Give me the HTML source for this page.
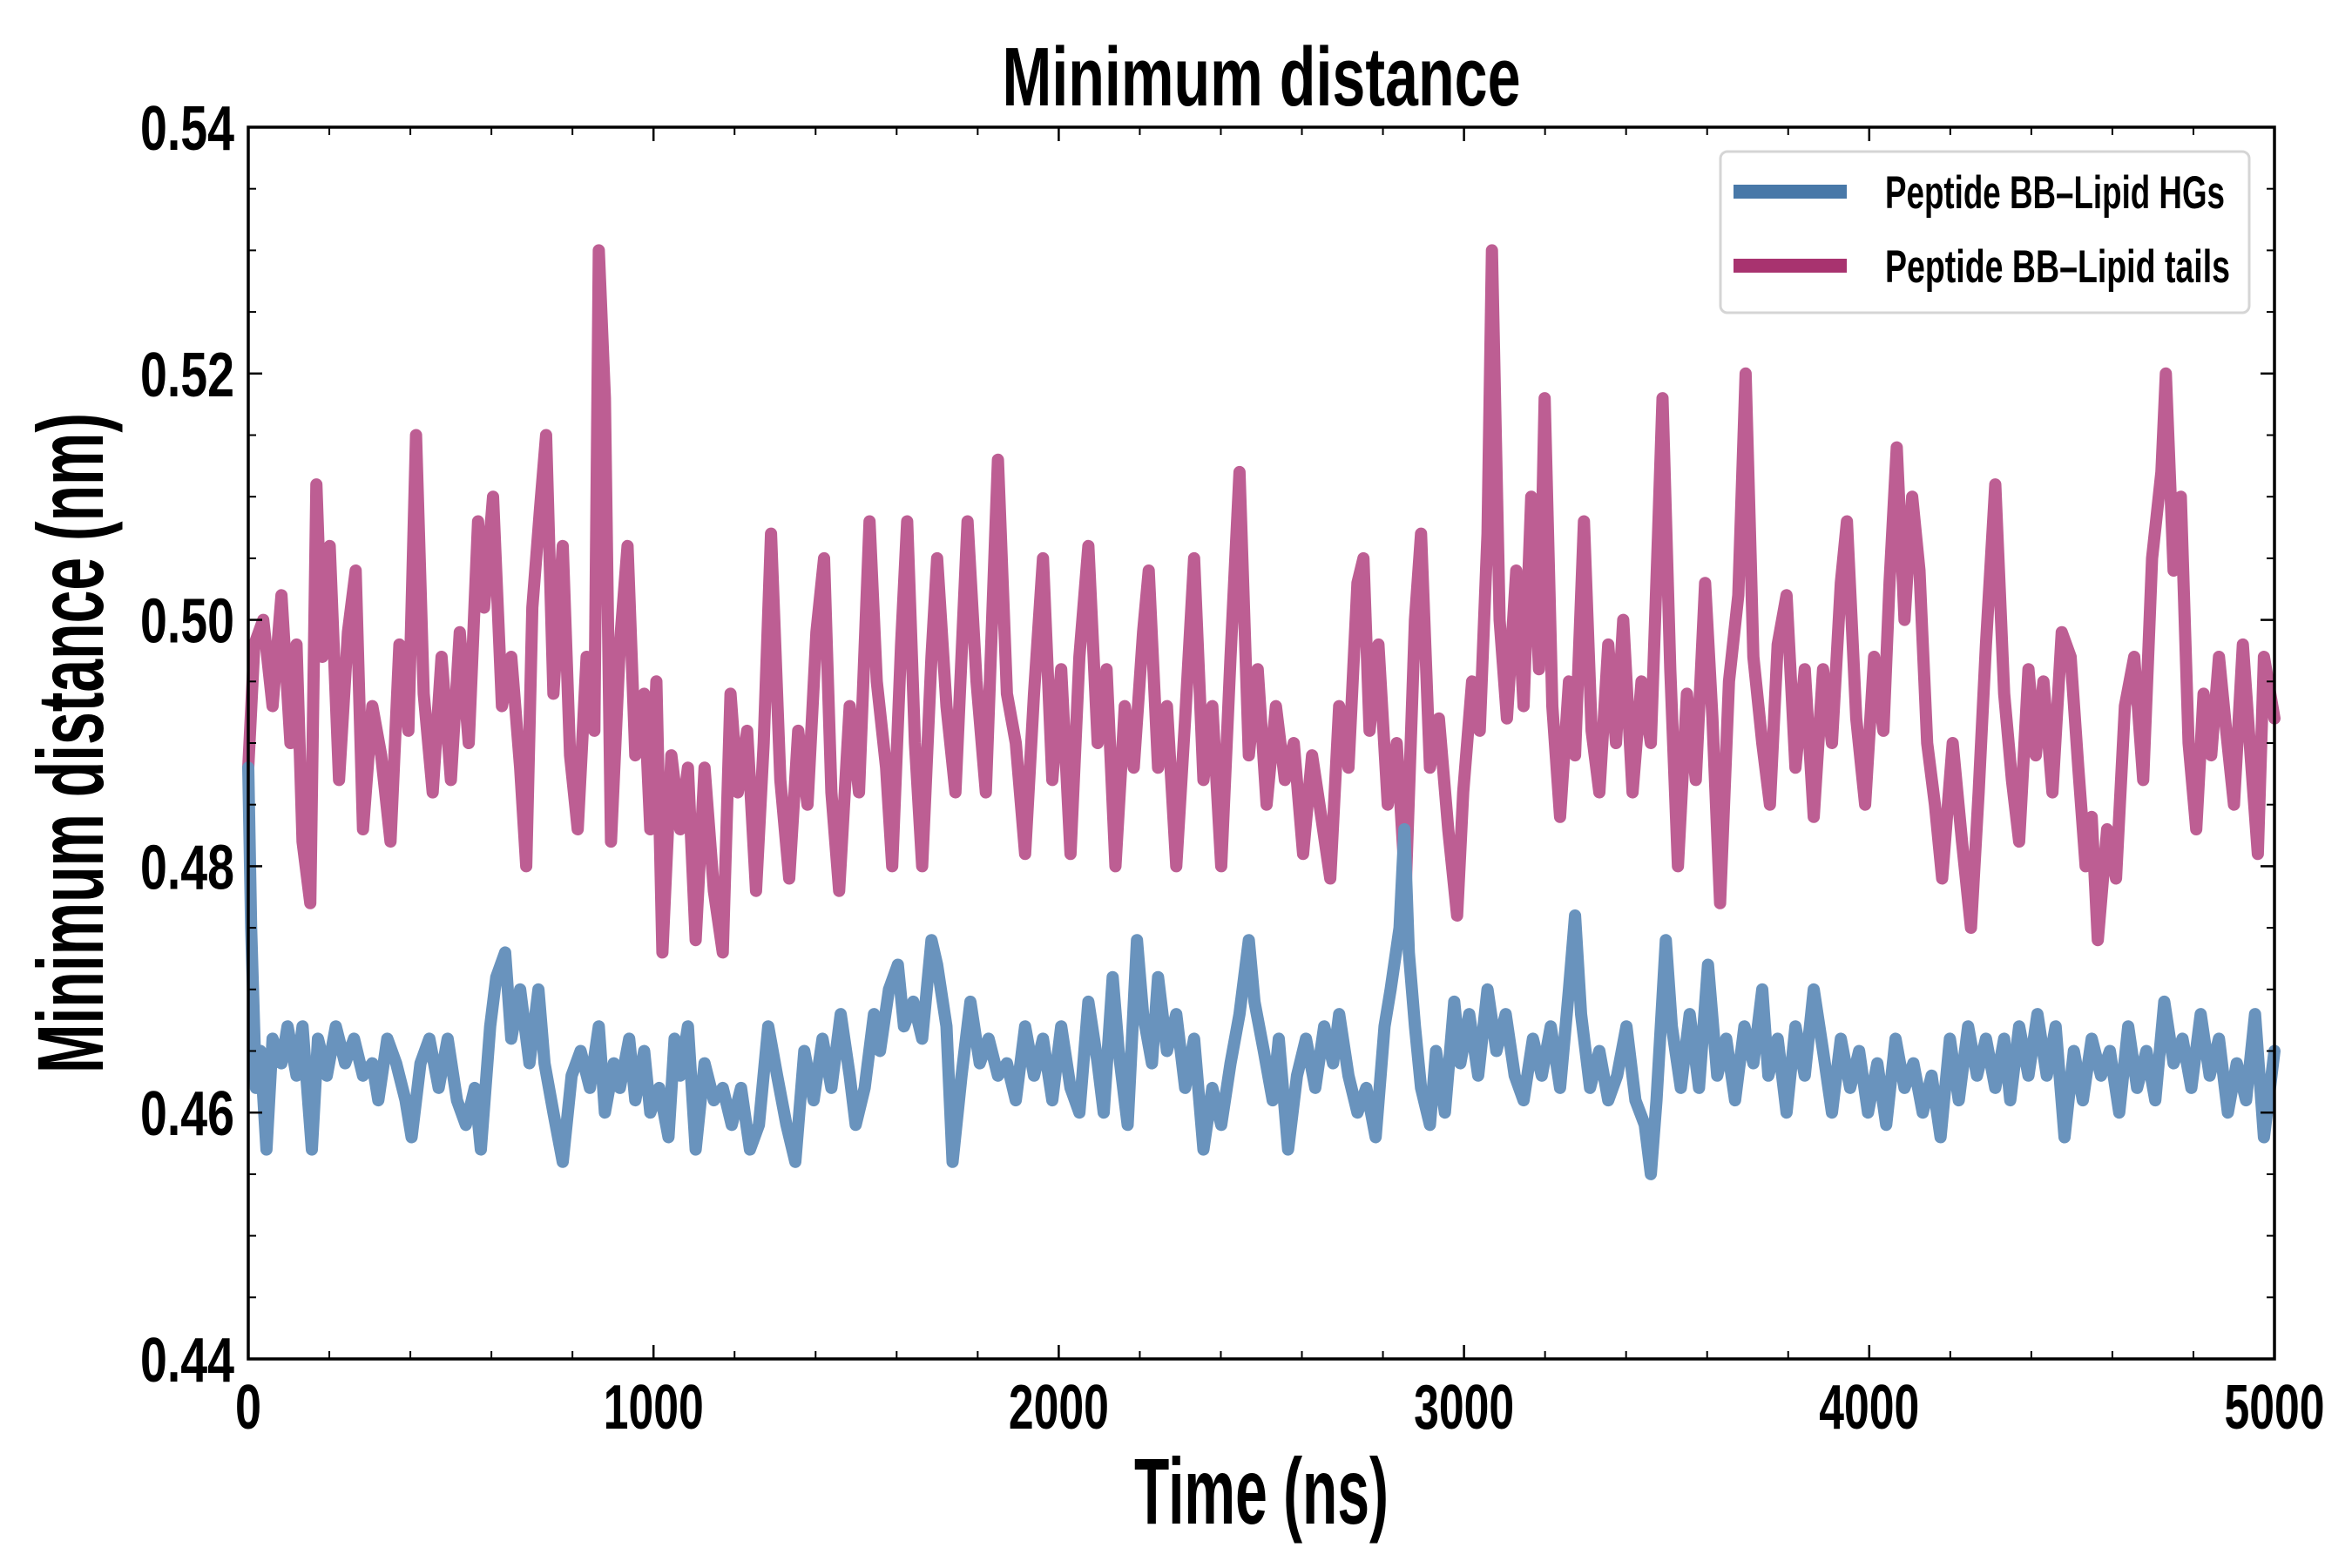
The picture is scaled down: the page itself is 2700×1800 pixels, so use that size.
<!DOCTYPE html>
<html><head><meta charset="utf-8"><style>
html,body{margin:0;padding:0;background:#fff;}
svg{display:block;}
text{font-family:"Liberation Sans Narrow","Liberation Sans",sans-serif;font-weight:bold;fill:#000;}
</style></head><body>
<svg id="chart" width="2700" height="1800" viewBox="0 0 2700 1800" xmlns="http://www.w3.org/2000/svg">
<rect x="0" y="0" width="2700" height="1800" fill="#fff"/>
<g id="series"></g>
<g id="axes"></g>
<text x="1448" y="121" text-anchor="middle" font-size="96" textLength="595" lengthAdjust="spacingAndGlyphs">Minimum distance</text>
<text x="1448" y="1749" text-anchor="middle" font-size="108" textLength="292" lengthAdjust="spacingAndGlyphs">Time (ns)</text>
<text x="0" y="0" transform="translate(118,853) rotate(-90)" text-anchor="middle" font-size="108" textLength="758" lengthAdjust="spacingAndGlyphs">Minimum distance (nm)</text>
<g>
<rect x="1975" y="174" width="607" height="185" rx="8" fill="#fff" fill-opacity="0.85" stroke="#d5d5d5" stroke-width="3"/>
<line x1="1990" y1="220" x2="2120" y2="220" stroke="#4878a8" stroke-width="16"/>
<text x="2164" y="239" font-size="53" textLength="390" lengthAdjust="spacingAndGlyphs">Peptide BB–Lipid HGs</text>
<line x1="1990" y1="305" x2="2120" y2="305" stroke="#a8336f" stroke-width="16"/>
<text x="2164" y="324" font-size="53" textLength="396" lengthAdjust="spacingAndGlyphs">Peptide BB–Lipid tails</text>
</g>
</svg>
<script>
const xTicks = [0, 1000, 2000, 3000, 4000, 5000];
const xTickLabels = ["0", "1000", "2000", "3000", "4000", "5000"];
const yTicks = [0.44, 0.46, 0.48, 0.50, 0.52, 0.54];
const yTickLabels = ["0.44", "0.46", "0.48", "0.50", "0.52", "0.54"];

const tailsTime = [0,15,37,60,82,104,119,134,153,168,183,201,224,246,265,283,306,328,351,373,395,414,433,455,477,500,522,544,567,582,604,626,649,671,686,701,720,735,753,776,794,813,835,854,865,880,895,917,936,955,977,992,1007,1022,1044,1066,1085,1104,1126,1149,1171,1190,1208,1231,1253,1272,1290,1313,1335,1357,1380,1402,1421,1439,1458,1484,1507,1533,1551,1574,1589,1611,1626,1645,1663,1686,1700,1723,1745,1775,1797,1820,1850,1872,1894,1917,1939,1961,1984,2006,2029,2051,2073,2096,2118,2140,2163,2185,2208,2222,2245,2267,2290,2312,2334,2357,2379,2401,2424,2446,2469,2491,2513,2536,2558,2580,2603,2625,2648,2670,2692,2715,2737,2752,2767,2789,2812,2834,2856,2879,2894,2916,2938,2961,2983,2998,3020,3039,3058,3069,3088,3106,3129,3147,3166,3185,3199,3218,3237,3259,3274,3296,3315,3334,3356,3375,3393,3416,3438,3461,3479,3490,3509,3528,3550,3572,3595,3613,3632,3654,3677,3695,3714,3736,3755,3774,3796,3818,3841,3863,3886,3908,3930,3945,3968,3990,4012,4035,4050,4068,4087,4106,4124,4143,4162,4180,4206,4229,4251,4270,4288,4311,4333,4352,4370,4393,4411,4430,4452,4475,4497,4516,4534,4549,4564,4587,4609,4631,4654,4676,4698,4721,4732,4751,4769,4788,4807,4825,4844,4863,4881,4900,4922,4941,4959,4974,5000];
const tailsValues = [0.488,0.498,0.500,0.493,0.502,0.490,0.498,0.482,0.477,0.511,0.497,0.506,0.487,0.499,0.504,0.483,0.493,0.489,0.482,0.498,0.491,0.515,0.494,0.486,0.497,0.487,0.499,0.490,0.508,0.501,0.510,0.493,0.497,0.488,0.480,0.501,0.509,0.515,0.494,0.506,0.489,0.483,0.497,0.491,0.530,0.518,0.482,0.498,0.506,0.489,0.494,0.483,0.495,0.473,0.489,0.483,0.488,0.474,0.488,0.478,0.473,0.494,0.486,0.491,0.478,0.490,0.507,0.487,0.479,0.491,0.485,0.499,0.505,0.486,0.478,0.493,0.486,0.508,0.495,0.488,0.480,0.498,0.508,0.490,0.480,0.497,0.505,0.493,0.486,0.508,0.495,0.486,0.513,0.494,0.490,0.481,0.494,0.505,0.487,0.496,0.481,0.497,0.506,0.490,0.496,0.480,0.493,0.488,0.499,0.504,0.488,0.493,0.480,0.492,0.505,0.487,0.493,0.480,0.497,0.512,0.489,0.496,0.485,0.493,0.487,0.490,0.481,0.489,0.484,0.479,0.493,0.488,0.503,0.505,0.491,0.498,0.485,0.490,0.478,0.500,0.507,0.488,0.492,0.483,0.476,0.486,0.495,0.491,0.507,0.530,0.500,0.492,0.504,0.493,0.510,0.496,0.518,0.493,0.484,0.495,0.489,0.508,0.491,0.486,0.498,0.490,0.500,0.486,0.495,0.490,0.507,0.518,0.496,0.480,0.494,0.487,0.503,0.492,0.477,0.495,0.502,0.520,0.497,0.490,0.485,0.498,0.502,0.488,0.496,0.484,0.496,0.490,0.503,0.508,0.492,0.485,0.497,0.491,0.503,0.514,0.500,0.510,0.504,0.490,0.485,0.479,0.490,0.482,0.475,0.486,0.498,0.511,0.494,0.487,0.482,0.496,0.489,0.495,0.486,0.499,0.497,0.488,0.480,0.484,0.474,0.483,0.479,0.493,0.497,0.487,0.505,0.512,0.520,0.504,0.510,0.490,0.483,0.494,0.489,0.497,0.491,0.485,0.498,0.489,0.481,0.497,0.492];

const hgsTime = [0,7,19,30,45,60,82,97,119,134,157,172,194,216,239,261,283,306,321,343,365,388,403,425,447,470,492,515,537,559,574,597,612,634,649,671,694,716,731,753,776,798,820,843,865,880,902,917,940,955,977,992,1014,1037,1052,1066,1085,1104,1126,1149,1171,1193,1216,1238,1260,1283,1305,1328,1350,1372,1395,1417,1439,1462,1484,1499,1521,1544,1559,1581,1603,1618,1641,1663,1686,1700,1723,1738,1760,1782,1805,1827,1850,1872,1894,1917,1939,1961,1984,2006,2029,2051,2073,2096,2111,2133,2148,2170,2193,2208,2230,2245,2267,2290,2312,2334,2357,2379,2401,2424,2446,2469,2483,2506,2528,2543,2566,2588,2610,2633,2655,2677,2692,2715,2737,2759,2782,2804,2819,2841,2853,2864,2879,2894,2916,2931,2953,2976,2991,3013,3035,3058,3080,3103,3125,3147,3170,3192,3214,3237,3259,3274,3289,3311,3334,3356,3378,3401,3423,3446,3461,3475,3498,3513,3535,3557,3580,3602,3625,3647,3669,3692,3714,3736,3751,3774,3796,3818,3841,3863,3886,3908,3930,3953,3975,3997,4020,4042,4065,4087,4109,4132,4154,4176,4199,4221,4244,4266,4288,4311,4333,4348,4370,4393,4415,4438,4460,4482,4505,4527,4549,4572,4594,4617,4639,4661,4684,4706,4728,4751,4773,4795,4818,4840,4863,4885,4907,4930,4952,4974,5000];
const hgsValues = [0.488,0.475,0.462,0.465,0.457,0.466,0.464,0.467,0.463,0.467,0.457,0.466,0.463,0.467,0.464,0.466,0.463,0.464,0.461,0.466,0.464,0.461,0.458,0.464,0.466,0.462,0.466,0.461,0.459,0.462,0.457,0.467,0.471,0.473,0.466,0.470,0.464,0.470,0.464,0.460,0.456,0.463,0.465,0.462,0.467,0.460,0.464,0.462,0.466,0.461,0.465,0.460,0.462,0.458,0.466,0.463,0.467,0.457,0.464,0.461,0.462,0.459,0.462,0.457,0.459,0.467,0.463,0.459,0.456,0.465,0.461,0.466,0.462,0.468,0.463,0.459,0.462,0.468,0.465,0.470,0.472,0.467,0.469,0.466,0.474,0.472,0.467,0.456,0.463,0.469,0.464,0.466,0.463,0.464,0.461,0.467,0.463,0.466,0.461,0.467,0.462,0.460,0.469,0.464,0.460,0.471,0.465,0.459,0.474,0.468,0.464,0.471,0.465,0.468,0.462,0.466,0.457,0.462,0.459,0.464,0.468,0.474,0.469,0.465,0.461,0.466,0.457,0.463,0.466,0.462,0.467,0.464,0.468,0.463,0.460,0.462,0.458,0.467,0.470,0.475,0.483,0.473,0.467,0.462,0.459,0.465,0.460,0.469,0.464,0.468,0.463,0.470,0.465,0.468,0.463,0.461,0.466,0.463,0.467,0.462,0.470,0.476,0.468,0.462,0.465,0.461,0.463,0.467,0.461,0.459,0.455,0.461,0.474,0.467,0.462,0.468,0.462,0.472,0.463,0.466,0.461,0.467,0.464,0.470,0.463,0.466,0.460,0.467,0.463,0.470,0.465,0.460,0.466,0.462,0.465,0.460,0.464,0.459,0.466,0.462,0.464,0.460,0.463,0.458,0.466,0.461,0.467,0.463,0.466,0.462,0.466,0.461,0.467,0.463,0.468,0.463,0.467,0.458,0.465,0.461,0.466,0.463,0.465,0.460,0.467,0.462,0.465,0.461,0.469,0.464,0.466,0.462,0.468,0.463,0.466,0.460,0.464,0.461,0.468,0.458,0.465];

const NS = "http://www.w3.org/2000/svg";
const L = 285, R = 2611, T = 146, B = 1560;
const X0 = 0, X1 = 5000, Y0 = 0.44, Y1 = 0.54;
function xScale(v){ return L + (v - X0) / (X1 - X0) * (R - L); }
function yScale(v){ return B - (v - Y0) / (Y1 - Y0) * (B - T); }

function makePath(times, vals, color, name){
  let d = "";
  for (let i = 0; i < times.length; i++){
    d += (i ? "L" : "M") + xScale(times[i]).toFixed(1) + "," + yScale(vals[i]).toFixed(1);
  }
  const p = document.createElementNS(NS, "path");
  p.setAttribute("d", d);
  p.setAttribute("fill", "none");
  p.setAttribute("stroke", color);
  p.setAttribute("stroke-width", "14");
  p.setAttribute("stroke-linejoin", "round");
  p.setAttribute("stroke-linecap", "round");
  
  
  document.getElementById("series").appendChild(p);
}
makePath(tailsTime, tailsValues, "#bd5e93", "series-lipid-tails");
makePath(hgsTime, hgsValues, "#6993bd", "series-lipid-hgs");

const axes = document.getElementById("axes");
function line(x1,y1,x2,y2,w,name){
  const l = document.createElementNS(NS, "line");
  l.setAttribute("x1", x1); l.setAttribute("y1", y1);
  l.setAttribute("x2", x2); l.setAttribute("y2", y2);
  l.setAttribute("stroke", "#000"); l.setAttribute("stroke-width", w);
  
  
  axes.appendChild(l);
}
function label(x,y,txt,anchor,len,name){
  const t = document.createElementNS(NS, "text");
  t.setAttribute("x", x); t.setAttribute("y", y);
  t.setAttribute("text-anchor", anchor);
  t.setAttribute("font-size", "72");
  t.setAttribute("textLength", len);
  t.setAttribute("lengthAdjust", "spacingAndGlyphs");
  t.textContent = txt;
  
  
  axes.appendChild(t);
}
for (let v = 200; v < 5000; v += 200){
  if (v % 1000 === 0) continue;
  const x = xScale(v);
  line(x, B, x, B - 9, 2, "x-minor-tick");
  line(x, T, x, T + 9, 2, "x-minor-tick-top");
}
for (let k = 1; k < 20; k++){
  if (k % 4 === 0) continue;
  const y = yScale(Y0 + k * 0.005);
  line(L, y, L + 9, y, 2, "y-minor-tick");
  line(R, y, R - 9, y, 2, "y-minor-tick-right");
}
xTicks.forEach((v, i) => {
  const x = xScale(v);
  line(x, B, x, B - 16, 2.5, "x-major-tick");
  line(x, T, x, T + 16, 2.5, "x-major-tick-top");
  label(x, 1640, xTickLabels[i], "middle", xTickLabels[i].length > 1 ? 115 : 30, "x-tick-label");
});
yTicks.forEach((v, i) => {
  const y = yScale(v);
  line(L, y, L + 16, y, 2.5, "y-major-tick");
  line(R, y, R - 16, y, 2.5, "y-major-tick-right");
  label(269, y + 26, yTickLabels[i], "end", 108, "y-tick-label");
});
const frame = document.createElementNS(NS, "rect");
frame.setAttribute("x", L); frame.setAttribute("y", T);
frame.setAttribute("width", R - L); frame.setAttribute("height", B - T);
frame.setAttribute("fill", "none"); frame.setAttribute("stroke", "#000"); frame.setAttribute("stroke-width", "3.5");


axes.appendChild(frame);
</script>
</body></html>
